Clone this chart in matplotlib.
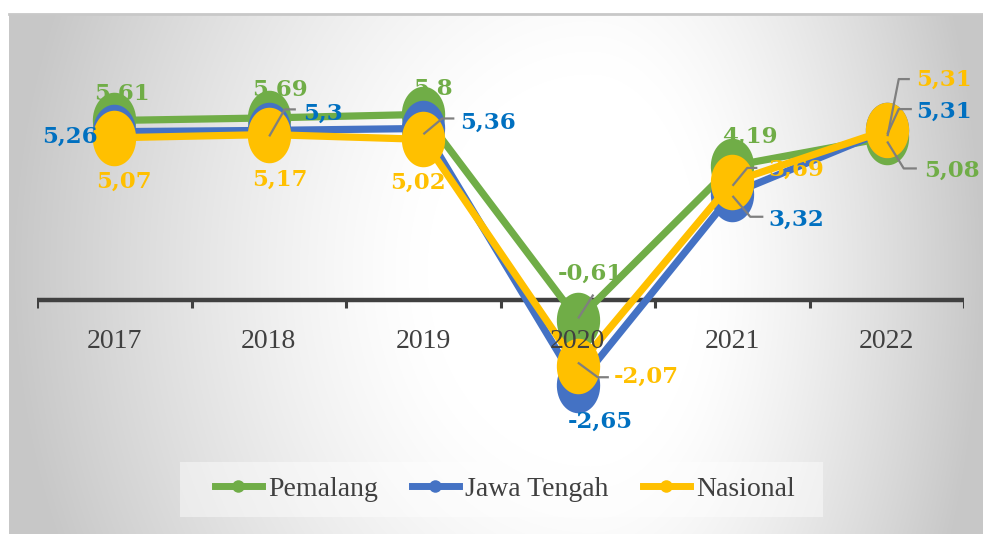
import numpy as np
import matplotlib
matplotlib.use("Agg")
import matplotlib.pyplot as plt
import matplotlib.transforms as mtrans
from matplotlib.path import Path
from matplotlib.lines import Line2D
from matplotlib.patches import Rectangle

# ---------------- data ----------------
years = ["2017", "2018", "2019", "2020", "2021", "2022"]
pemalang = [5.61, 5.69, 5.80, -0.61, 4.19, 5.08]
jawa_tengah = [5.26, 5.30, 5.36, -2.65, 3.32, 5.31]
nasional = [5.07, 5.17, 5.02, -2.07, 3.69, 5.31]
series_names = ["Pemalang", "Jawa Tengah", "Nasional"]

# ---------------- style ----------------
W, H = 983, 534
DPI = 100
line_colors = ["#70AD47", "#4472C4", "#FFC000"]
label_colors = ["#70AD47", "#0070C0", "#FFC000"]
txt_gray = "#404040"
leader_gray = "#7F7F7F"

fig = plt.figure(figsize=(W / DPI, H / DPI), dpi=DPI)
fig.patch.set_facecolor("white")

# background gradient (chart area)
bx0, by0 = 9, 14
bg = fig.add_axes([bx0 / W, 0, (W - bx0) / W, (H - by0) / H])
bg.set_axis_off()
xs = np.arange(bx0, W)
ys = np.arange(by0, H)
X, Y = np.meshgrid(xs, ys)
cx, cy = 590, 270
U = np.where(X < cx, (X - cx) / (cx - bx0), (X - cx) / (W - cx))
V = (Y - cy) / 700.0
R = np.sqrt(U ** 2 + V ** 2)
t = np.clip((R - 0.28) / 0.72, 0, 1) ** 1.3
I = (255 - 56 * t) / 255.0
img = np.dstack([I, I, I])
bg.imshow(img, aspect="auto", extent=[0, 1, 0, 1], origin="upper")
bg.set_xlim(0, 1)
bg.set_ylim(0, 1)
fig.add_artist(Line2D([bx0 / W, 1], [1 - by0 / H, 1 - by0 / H],
                      transform=fig.transFigure, color="#C8C8C8", lw=2))

# main axes: x from 37 to 964 px, y=0 at 300 px, 32 px per unit
ax_left, ax_right = 37, 964
ymax, ymin = 8.0, -4.0
ppu = 32.0
y0px = 300
top_px = y0px - ymax * ppu
bot_px = y0px - ymin * ppu
ax = fig.add_axes([ax_left / W, 1 - bot_px / H, (ax_right - ax_left) / W, (bot_px - top_px) / H])
ax.patch.set_alpha(0)
ax.set_xlim(-0.5, len(years) - 0.5)
ax.set_ylim(ymin, ymax)
for s in ax.spines.values():
    s.set_visible(False)
ax.set_yticks([])
ax.set_xticks([])

ax.axhline(0, color=txt_gray, lw=3.2, zorder=1, solid_capstyle="butt")
tick_len = 8 / ppu
for b in np.arange(-0.5, len(years), 1.0):
    ax.plot([b, b], [0, -tick_len], color=txt_gray, lw=2.2, zorder=1, solid_capstyle="butt")

th = np.linspace(0, 2 * np.pi, 60)
ell = Path(np.column_stack([0.78 * np.cos(th), np.sin(th)]), closed=True)

xpos = np.arange(len(years))
all_series = [pemalang, jawa_tengah, nasional]
for vals, c in zip(all_series, line_colors):
    ax.plot(xpos, vals, color=c, lw=5.2, marker=ell, markersize=40,
            markeredgewidth=0, zorder=3, solid_joinstyle="round")

year_tr = ax.transData + mtrans.ScaledTranslation(0, -41 / DPI, fig.dpi_scale_trans)
for i, yl in enumerate(years):
    ax.text(i, 0, yl, transform=year_tr, ha="center", va="center",
            fontsize=20, family="Liberation Serif", color=txt_gray, zorder=5)


def fmt(v):
    return f"{v:g}".replace(".", ",")


label_style = {
    (0, 0): ((8, -27), "center", None),
    (0, 1): ((-17, 5), "right", None),
    (0, 2): ((10, 44), "center", None),
    (1, 0): ((11, -28), "center", None),
    (1, 1): ((34, -17), "left", [(1, 5), (16, -21), (26, -21)]),
    (1, 2): ((11, 45), "center", None),
    (2, 0): ((10, -26), "center", None),
    (2, 1): ((37, -6), "left", [(1, 5), (19, -10), (30, -10)]),
    (2, 2): ((-5, 43), "center", None),
    (3, 0): ((13, -46), "center", [(1, -2), (15, -24)]),
    (3, 1): ((23, 37), "center", None),
    (3, 2): ((36, 11), "left", [(1, -3), (20, 11), (30, 11)]),
    (4, 0): ((18, -29), "center", None),
    (4, 1): ((36, 26), "left", [(1, 3), (18, 23), (30, 23)]),
    (4, 2): ((36, -12), "left", [(1, 3), (15, -14), (24, -14)]),
    (5, 0): ((37, 33), "left", [(1, 5), (17, 31), (29, 31)]),
    (5, 1): ((29, -18), "left", [(1, 3), (12, -21), (24, -21)]),
    (5, 2): ((29, -50), "left", [(1, 5), (12, -51), (22, -51)]),
}

fig.canvas.draw()


def px_to_data(x, y, dx, dy):
    p = ax.transData.transform((x, y))
    return ax.transData.inverted().transform((p[0] + dx, p[1] - dy))


for si, (vals, lc) in enumerate(zip(all_series, label_colors)):
    for i, v in enumerate(vals):
        (dx, dy), ha, leader = label_style[(i, si)]
        if leader:
            pts = np.array([px_to_data(i, v, a, b) for a, b in leader])
            ax.plot(pts[:, 0], pts[:, 1], color=leader_gray, lw=1.6, zorder=6)
        tx, ty = px_to_data(i, v, dx, dy)
        ax.text(tx, ty, fmt(v), ha=ha, va="center", fontsize=16.5, fontweight="bold",
                family="DejaVu Serif", color=lc, zorder=7)

# legend background box
fig.add_artist(Rectangle((180 / W, 1 - 517 / H), 643 / W, 55 / H, transform=fig.transFigure,
                         facecolor="white", alpha=0.45, edgecolor="none"))
handles = [Line2D([0], [0], color=c, lw=5, marker="o", markersize=9, markeredgewidth=0)
           for c in line_colors]
leg = fig.legend(handles, series_names, loc="center left", bbox_to_anchor=(214.5 / W, 1 - 489.5 / H),
                 ncol=3, frameon=False, handlelength=1.7, handletextpad=0.23,
                 columnspacing=1.22, borderpad=0, borderaxespad=0,
                 prop={"family": "Liberation Serif", "size": 20})
for t_ in leg.get_texts():
    t_.set_color(txt_gray)

fig.savefig("out.png", dpi=DPI)
